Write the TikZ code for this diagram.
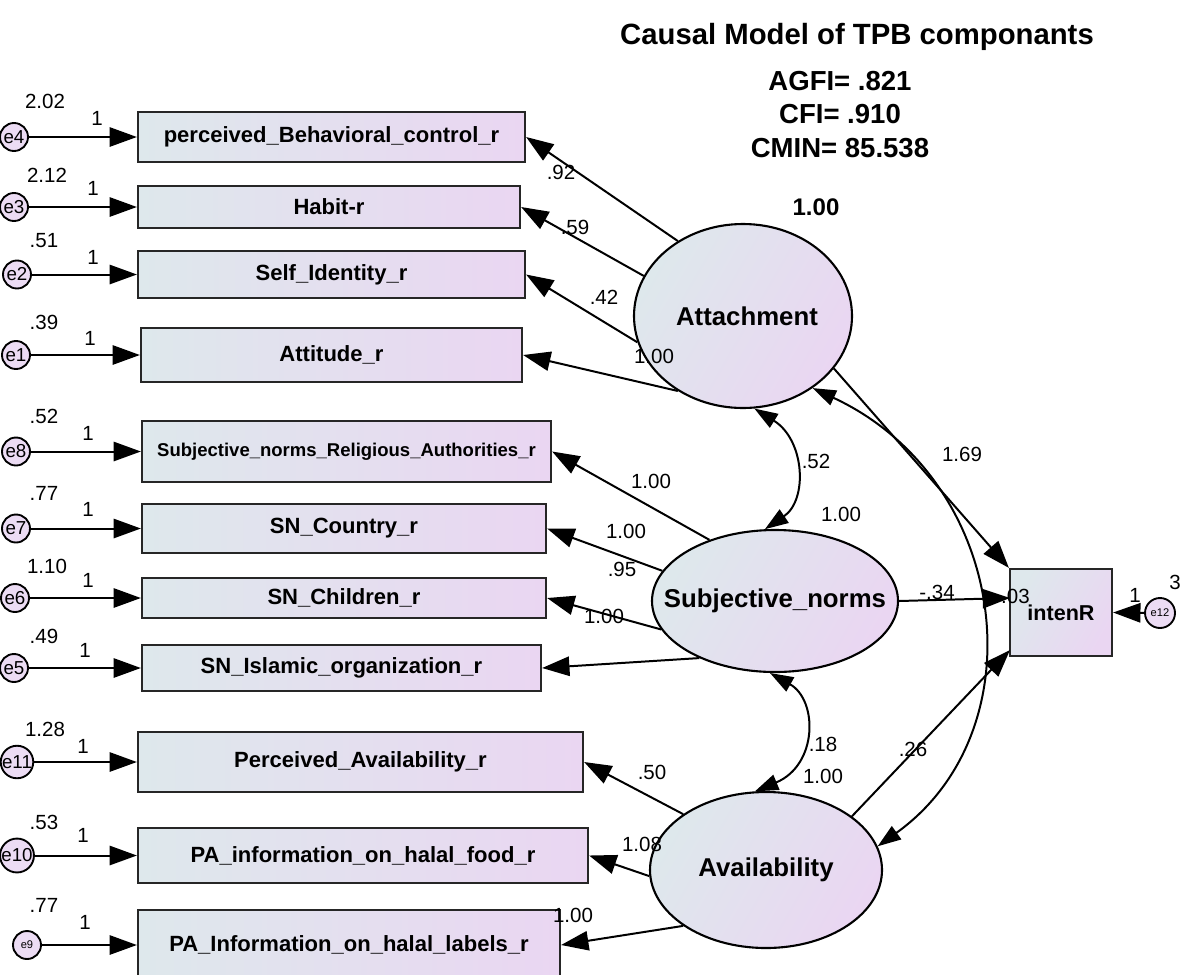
\documentclass[tikz,border=0pt]{standalone}
\usepackage{fontspec}
\setmainfont{Liberation Sans}
\usetikzlibrary{shapes.geometric,arrows.meta}
\definecolor{bL}{RGB}{222,232,236}
\definecolor{bR}{RGB}{234,214,242}
\definecolor{eF}{RGB}{236,220,244}
\begin{document}
\begin{tikzpicture}[x=0.03cm,y=-0.03cm,
  box/.style={draw=black!85, line width=1.9pt, left color=bL, right color=bR, inner sep=0pt, font=\bfseries\fontsize{18.8}{20}\selectfont},
  sz/.style 2 args={minimum width=#1*0.03cm, minimum height=#2*0.03cm},
  lat/.style={ellipse, draw=black, line width=1.8pt, left color=bL, right color=bR, shading angle=60, inner sep=0pt},
  latT/.style={inner sep=0pt, font=\bfseries\fontsize{22}{24}\selectfont},
  err/.style={circle, draw=black, line width=1.6pt, fill=eF, minimum size=28*0.03cm, inner sep=0pt, font=\fontsize{16}{16}\selectfont},
  arr/.style={line width=1.7pt, -{Triangle[length=0.82cm,width=0.58cm]}},
  cov/.style={line width=1.7pt, {Triangle[length=0.7cm,width=0.48cm]}-{Triangle[length=0.7cm,width=0.48cm]}},
  lab/.style={inner sep=0pt, font=\fontsize{17.5}{19}\selectfont},
]
\useasboundingbox (0,0) rectangle (1182,974);

% title and fit statistics
\node[font=\bfseries\fontsize{25}{28}\selectfont] (title) at (857,37) {Causal Model of TPB componants};
\node[font=\bfseries\fontsize{23.5}{26}\selectfont] (agfi) at (840,81) {AGFI= .821};
\node[font=\bfseries\fontsize{23.5}{26}\selectfont] (cfi) at (840,114) {CFI= .910};
\node[font=\bfseries\fontsize{23.5}{26}\selectfont] (cmin) at (840,148) {CMIN= 85.538};

% observed boxes
\node[box, sz={387}{50}] (b1) at (331.5,137) {perceived\_Behavioral\_control\_r};
\node[box, sz={382}{42}] (b2) at (329,207) {Habit-r};
\node[box, sz={387}{47}] (b3) at (331.5,274.5) {Self\_Identity\_r};
\node[box, sz={381}{54}] (b4) at (331.5,355) {Attitude\_r};
\node[box, sz={409}{61}, font=\bfseries\fontsize{15.8}{18}\selectfont] (b5) at (346.5,451.5) {Subjective\_norms\_Religious\_Authorities\_r};
\node[box, sz={404}{49}] (b6) at (344,528.5) {SN\_Country\_r};
\node[box, sz={404}{40}] (b7) at (344,598) {SN\_Children\_r};
\node[box, sz={399}{46}] (b8) at (341.5,668) {SN\_Islamic\_organization\_r};
\node[box, sz={445}{60}] (b9) at (360.5,762) {Perceived\_Availability\_r};
\node[box, sz={450}{55}] (b10) at (363,855.5) {PA\_information\_on\_halal\_food\_r};
\node[box, sz={422}{70}] (b11) at (349,945) {PA\_Information\_on\_halal\_labels\_r};

% error circles
\node[err] (e4) at (14,137) {e4};
\node[err] (e3) at (14,207) {e3};
\node[err] (e2) at (17,274.5) {e2};
\node[err] (e1) at (16,355) {e1};
\node[err] (e8) at (16,451.5) {e8};
\node[err] (e7) at (16,528.5) {e7};
\node[err] (e6) at (15,598) {e6};
\node[err] (e5) at (14,668) {e5};
\node[err] (e11) at (17,762) {e11};
\node[err] (e10) at (17,855.5) {e10};
\node[err, font=\fontsize{9.5}{9.5}\selectfont] (e9) at (27,945) {e9};

\foreach \e/\b in {e4/b1,e3/b2,e2/b3,e1/b4,e8/b5,e7/b6,e6/b7,e5/b8,e11/b9,e10/b10,e9/b11}
  \draw[arr] (\e) -- (\b.west);

% variances and fixed loadings of errors
\node[lab] (v4) at (45,101) {2.02};  \node[lab] (w4) at (97,118) {1};
\node[lab] (v3) at (47,175) {2.12};  \node[lab] (w3) at (93,188) {1};
\node[lab] (v2) at (44,241) {.51};   \node[lab] (w2) at (93,257) {1};
\node[lab] (v1) at (44,322) {.39};   \node[lab] (w1) at (90,338) {1};
\node[lab] (v8) at (44,416) {.52};   \node[lab] (w8) at (88,433) {1};
\node[lab] (v7) at (44,493) {.77};   \node[lab] (w7) at (88,509) {1};
\node[lab] (v6) at (47,566) {1.10};  \node[lab] (w6) at (88,580) {1};
\node[lab] (v5) at (44,636) {.49};   \node[lab] (w5) at (85,650) {1};
\node[lab] (v11) at (45,729) {1.28}; \node[lab] (w11) at (83,746) {1};
\node[lab] (v10) at (44,822) {.53};  \node[lab] (w10) at (83,835) {1};
\node[lab] (v9) at (44,905) {.77};   \node[lab] (w9) at (85,922) {1};

% latent variables
\node[lat, sz={218}{184}] (att) at (743,316) {};
\node[latT] (attT) at (747,316) {Attachment};
\node[lat, sz={246}{142}] (sn) at (775,601) {};
\node[latT] (snT) at (sn) {Subjective\_norms};
\node[lat, sz={232}{156}] (av) at (766,870) {};
\node[latT] (avT) at (av) {Availability};
\node[box, sz={102}{87}, shading angle=60, font=\bfseries\fontsize{18.4}{20}\selectfont] (in) at (1061,612.5) {intenR};
\node[err, minimum size=30*0.03cm, font=\fontsize{9.5}{9.5}\selectfont] (e12) at (1160,613) {e12};
\draw[arr] (e12) -- (in.east);
\node[lab] (v12) at (1175,582) {3};
\node[lab] (w12) at (1135,595) {1};

% loadings
\draw[arr] (att.131) -- (b1.east);
\draw[arr] (att.158) -- (b2.east);
\draw[arr] (att.194) -- (b3.east);
\draw[arr] (att.229) -- (b4.east);
\draw[arr] (sn.137) -- (b5.east);
\draw[arr] (sn.165) -- (b6.east);
\draw[arr] (sn.194) -- (b7.east);
\draw[arr] (sn.217) -- (b8.east);
\draw[arr] (av.146) -- (b9.east);
\draw[arr] (av.183) -- (b10.east);
\draw[arr] (av.214) -- (b11.east);

\node[lab] (l1) at (561,172) {.92};
\node[lab] (l2) at (575,227) {.59};
\node[lab] (l3) at (604,297) {.42};
\node[lab] (l4) at (654,356) {1.00};
\node[lab] (l5) at (651,481) {1.00};
\node[lab] (l6) at (626,531) {1.00};
\node[lab] (l7) at (622,569) {.95};
\node[lab] (l8) at (604,616) {1.00};
\node[lab] (l9) at (652,772) {.50};
\node[lab] (l10) at (642,844) {1.08};
\node[lab] (l11) at (573,915) {1.00};

% structural paths
\coordinate (inS) at (1010,598);
\coordinate (inA) at (1010,650);
\draw[arr] (att.330) -- (in.north west);
\draw[arr] (sn.0) -- (inS);
\draw[arr] (av.32) -- (inA);
\node[lab] (p1) at (962,454) {1.69};
\node[lab] (p2) at (937,592) {-.34};
\node[lab] (p3) at (913,749) {.26};

% covariances
\draw[cov] (att.277) .. controls (805,440) and (808,500) .. (sn.98);
\draw[cov] (sn.266) .. controls (818,700) and (818,765) .. (av.98);
\draw[cov] (att.314) .. controls (1010,480) and (1040,730) .. (av.12);
\node[lab] (c1) at (816,461) {.52};
\node[lab] (c2) at (823,744) {.18};
\node[lab] (c3) at (1012,596) {-.03};

% latent variances
\node[font=\bfseries\fontsize{20.5}{22}\selectfont, inner sep=0pt] (va) at (816,207) {1.00};
\node[lab] (vs) at (841,514) {1.00};
\node[lab] (vv) at (823,776) {1.00};
\end{tikzpicture}
\end{document}
